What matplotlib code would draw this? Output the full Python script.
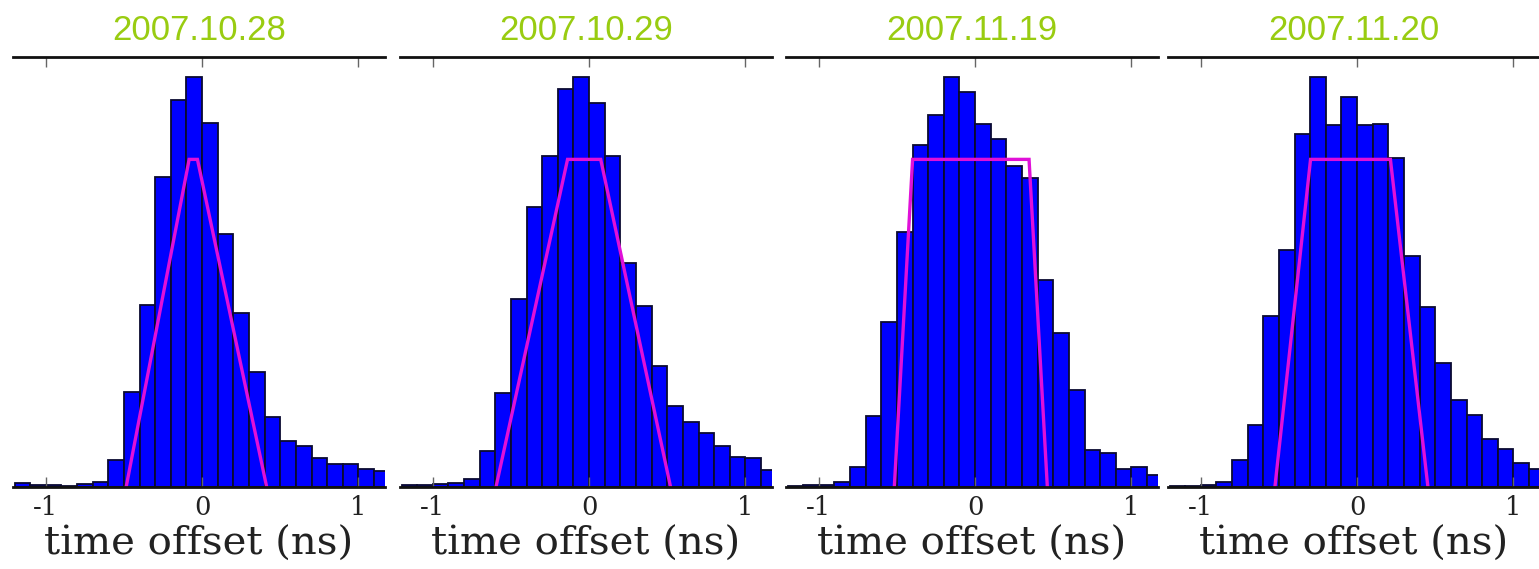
import numpy as np
import matplotlib
matplotlib.use("Agg")
import matplotlib.pyplot as plt

# histogram bins (ns), left edges, width 0.1
bin_left = [-1.2, -1.1, -1.0, -0.9, -0.8, -0.7, -0.6, -0.5, -0.4, -0.3, -0.2, -0.1,
            0.0, 0.1, 0.2, 0.3, 0.4, 0.5, 0.6, 0.7, 0.8, 0.9, 1.0, 1.1]
bin_width = 0.1

dates = ["2007.10.28", "2007.10.29", "2007.11.19", "2007.11.20"]

counts_1028 = [1.0, 0.6, 0.5, 0.3, 0.7, 1.2, 6.7, 23.2, 44.4, 75.7, 94.4, 100, 89.0, 61.8,
               42.4, 28.1, 17.0, 11.3, 10.1, 7.1, 5.6, 5.5, 4.4, 3.8]
counts_1029 = [0.4, 0.5, 0.7, 1.0, 2.0, 8.9, 22.9, 46.0, 68.3, 80.9, 97.2, 100, 93.7, 80.9,
               54.8, 44.3, 29.6, 19.9, 15.9, 13.1, 10.1, 7.4, 7.1, 4.2]
counts_1119 = [0.3, 0.4, 0.6, 1.1, 4.9, 17.4, 40.4, 62.3, 83.5, 90.9, 100, 96.4, 88.7, 85.0,
               78.3, 75.4, 50.6, 37.5, 23.7, 9.1, 8.2, 4.3, 4.9, 2.9]
counts_1120 = [0.2, 0.3, 0.4, 1.3, 6.5, 15.2, 41.7, 57.9, 86.3, 100, 88.4, 95.3, 88.4, 88.7,
               80.4, 56.4, 43.9, 30.4, 21.2, 17.6, 11.8, 9.4, 5.8, 4.3]

# trapezoid model (magenta), corner x positions and heights
trap_x_1028 = [-0.486, -0.083, -0.03, 0.413]
trap_x_1029 = [-0.596, -0.138, 0.074, 0.521]
trap_x_1119 = [-0.517, -0.40, 0.345, 0.462]
trap_x_1120 = [-0.526, -0.298, 0.213, 0.453]
trap_y = [0, 80, 80, 0]

all_counts = [counts_1028, counts_1029, counts_1119, counts_1120]
all_trap = [trap_x_1028, trap_x_1029, trap_x_1119, trap_x_1120]

W, H = 1539, 569
fig = plt.figure(figsize=(W / 100, H / 100), dpi=100)
fig.patch.set_facecolor("white")

lefts_px = [13, 400, 786, 1168]
width_px = 372
top_px, bottom_px = 57, 487

for i in range(4):
    ax = fig.add_axes([lefts_px[i] / W, (H - bottom_px) / H,
                       width_px / W, (bottom_px - top_px) / H])
    ax.bar(bin_left, all_counts[i], width=bin_width, align="edge",
           color="#0000ff", edgecolor="#0a0a30", linewidth=1.3)
    ax.plot(all_trap[i], trap_y, color="#e010d8", linewidth=2.4, solid_joinstyle="miter")
    ax.set_xlim(-1.21, 1.17)
    ax.set_ylim(0, 105)
    for s in ["left", "right"]:
        ax.spines[s].set_visible(False)
    for s in ["top", "bottom"]:
        ax.spines[s].set_linewidth(2.0)
        ax.spines[s].set_color("#111111")
    ax.set_yticks([])
    ax.set_xticks([-1, 0, 1])
    ax.set_xticklabels(["-1", "0", "1"], family="DejaVu Serif", fontsize=18.5, color="#222222")
    ax.tick_params(axis="x", direction="in", length=7, width=1, color="#666666",
                   top=True, bottom=True, pad=6)
    ax.set_xlabel("time offset (ns)", family="DejaVu Serif", fontsize=29, labelpad=4,
                  color="#222222")
    ax.set_title(dates[i], color="#99cc11", fontsize=25, family="Liberation Sans", pad=12)

fig.savefig("out.png", dpi=100)
